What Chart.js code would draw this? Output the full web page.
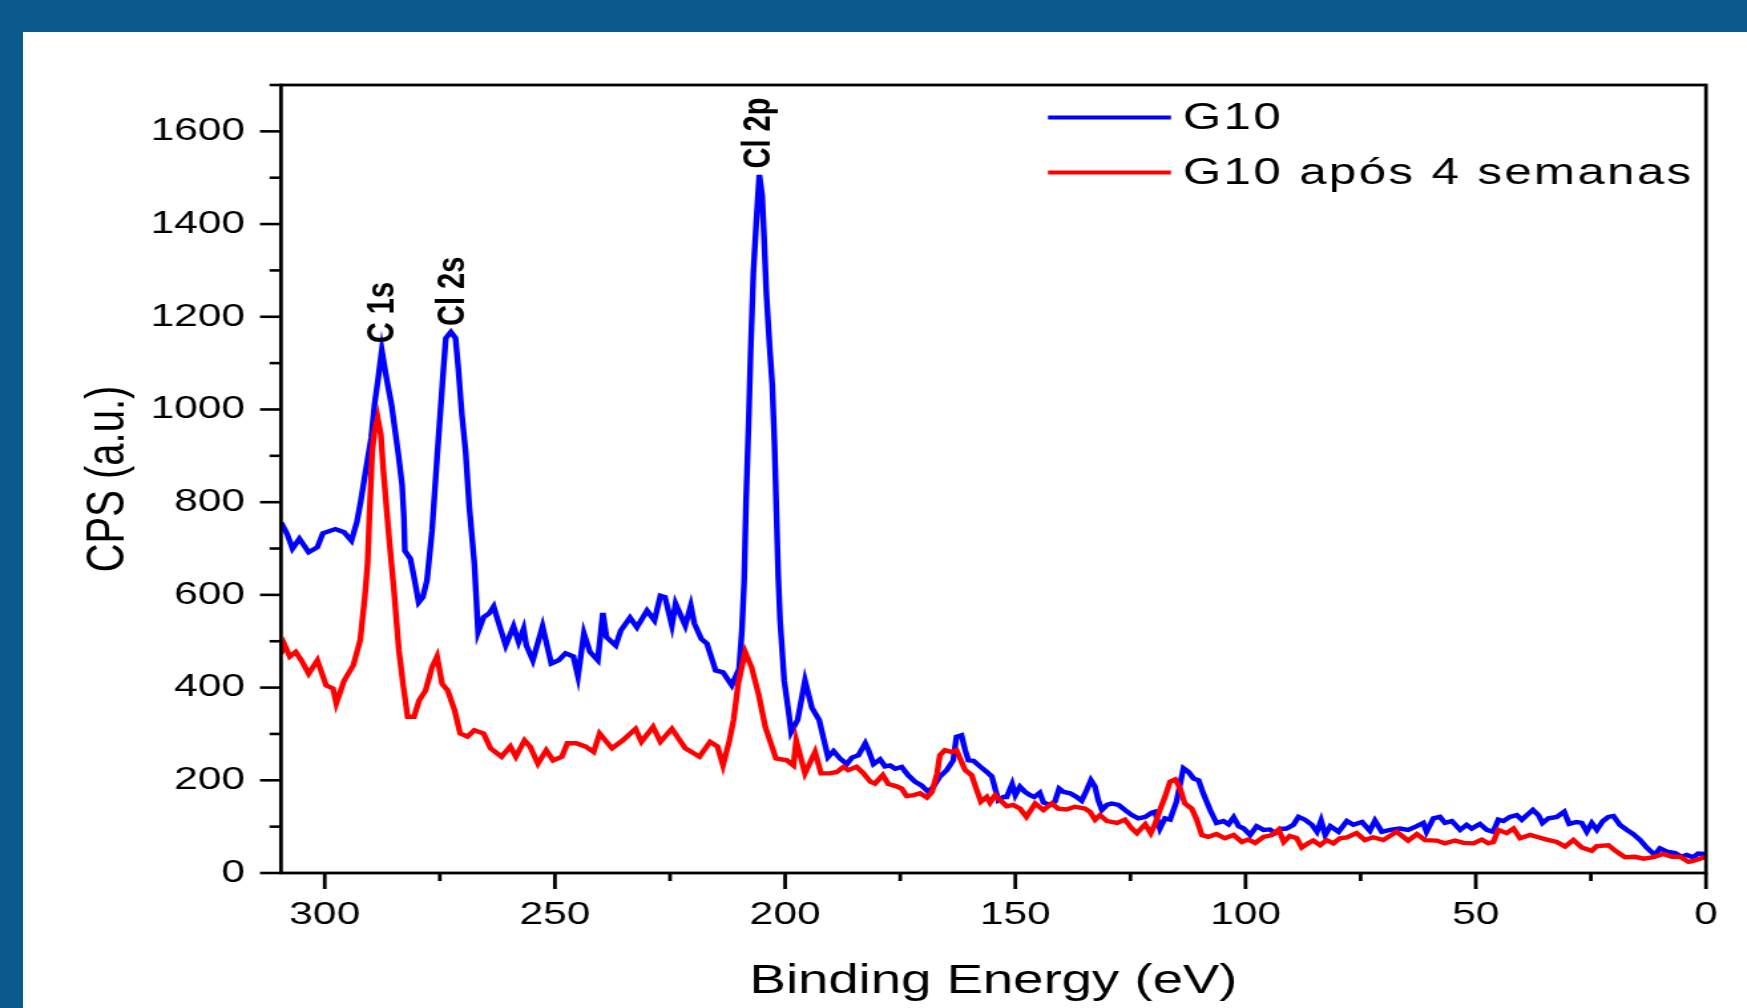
<!DOCTYPE html>
<html>
<head>
<meta charset="utf-8">
<title>XPS G10</title>
<script src="https://cdn.jsdelivr.net/npm/chart.js@4.4.1/dist/chart.umd.min.js"></script>
<style>
  html, body { margin: 0; padding: 0; }
  body { width: 1747px; height: 1008px; background: #0a5a8e; position: relative; overflow: hidden; }
  #panel { position: absolute; left: 23px; top: 32px; right: 0; bottom: 0; background: #fff; }
  /* the original figure is stretched sideways, so the chart is drawn narrow and scaled */
  #wrap { position: absolute; left: 0; top: 0; width: 1314px; height: 1008px; transform: scaleX(1.3295); transform-origin: 0 0; }
</style>
</head>
<body>
<div id="panel"></div>
<div id="wrap"><canvas id="xps" width="1314" height="1008"></canvas></div>
<script>
// G10 (blue)
const g10Energy = [309.5, 308.2, 307.0, 305.5, 303.5, 301.6, 300.4, 297.7, 295.8, 294.2, 293.0, 292.2, 291.0, 289.9, 289.2, 288.3, 287.6, 286.7, 285.5, 284.8, 284.0, 283.2, 282.8, 282.6, 281.4, 280.6, 279.6, 278.7, 277.8, 276.7, 275.6, 274.8, 274.2, 273.7, 272.6, 271.6, 271.0, 270.2, 269.4, 268.6, 267.5, 267.1, 266.7, 265.5, 264.3, 263.3, 262.4, 260.7, 259.0, 257.9, 256.8, 256.2, 254.8, 252.7, 250.8, 249.2, 247.7, 246.0, 245.0, 243.7, 242.4, 240.7, 239.6, 238.8, 236.8, 235.7, 233.7, 232.2, 230.0, 228.4, 227.1, 226.1, 224.6, 223.8, 221.7, 220.5, 219.7, 218.2, 217.0, 215.1, 213.5, 211.6, 210.0, 209.4, 208.9, 208.5, 207.9, 207.5, 206.9, 206.3, 205.9, 205.6, 205.0, 204.6, 204.1, 203.4, 202.8, 202.3, 201.9, 201.5, 201.1, 200.2, 199.2, 198.7, 197.3, 195.7, 194.2, 192.6, 190.7, 189.5, 188.1, 186.6, 185.5, 184.1, 182.6, 181.9, 180.8, 179.4, 178.3, 177.2, 176.1, 174.7, 173.3, 171.8, 170.4, 168.9, 167.8, 166.4, 164.9, 163.5, 162.8, 161.7, 160.9, 160.2, 159.1, 157.7, 156.2, 155.1, 154.4, 153.7, 152.6, 151.9, 150.7, 150.0, 149.0, 147.9, 146.8, 145.9, 144.7, 143.9, 142.5, 141.4, 140.5, 139.6, 138.1, 136.7, 135.6, 134.5, 133.6, 132.7, 132.0, 131.2, 130.1, 129.1, 127.6, 126.2, 124.7, 123.3, 121.8, 120.4, 119.7, 118.6, 117.5, 116.4, 115.0, 113.5, 112.4, 111.3, 110.2, 109.2, 107.7, 106.3, 104.8, 103.7, 102.6, 101.5, 100.4, 99.0, 97.6, 96.1, 94.7, 93.6, 92.5, 91.1, 89.6, 88.5, 87.1, 85.6, 84.5, 83.6, 82.7, 81.6, 79.8, 78.0, 76.6, 74.7, 73.0, 71.9, 70.4, 68.6, 66.5, 64.7, 62.8, 61.4, 60.7, 59.2, 57.8, 56.7, 55.2, 53.4, 52.0, 50.9, 49.1, 47.6, 46.2, 45.1, 44.0, 42.6, 41.1, 40.0, 38.9, 37.6, 36.4, 35.5, 34.2, 32.4, 30.8, 29.7, 28.1, 27.0, 25.9, 24.8, 23.7, 22.4, 21.2, 20.1, 18.7, 17.2, 15.8, 14.3, 12.9, 11.1, 10.0, 8.5, 6.7, 5.3, 4.2, 2.8, 1.7, 0.2];
const g10Cps = [756, 732, 700, 721, 692, 703, 733, 742, 735, 717, 758, 801, 874, 939, 1010, 1074, 1128, 1074, 1010, 960, 902, 837, 766, 695, 678, 638, 584, 595, 631, 738, 896, 1006, 1089, 1154, 1167, 1154, 1089, 988, 909, 790, 667, 595, 520, 552, 560, 575, 545, 491, 532, 498, 527, 491, 459, 532, 452, 459, 474, 467, 424, 517, 477, 459, 561, 509, 491, 523, 551, 530, 566, 545, 598, 595, 534, 581, 534, 577, 538, 505, 495, 437, 433, 405, 441, 523, 631, 801, 982, 1124, 1296, 1397, 1462, 1506, 1462, 1376, 1254, 1139, 1053, 920, 780, 640, 545, 415, 344, 304, 330, 415, 357, 330, 250, 263, 247, 235, 249, 254, 280, 265, 235, 245, 230, 232, 225, 229, 211, 197, 189, 175, 186, 208, 222, 243, 294, 297, 265, 243, 242, 230, 218, 208, 182, 157, 164, 164, 192, 168, 186, 175, 168, 164, 173, 152, 147, 154, 182, 175, 172, 164, 156, 179, 200, 186, 157, 136, 147, 150, 147, 136, 125, 118, 121, 130, 132, 96, 118, 115, 154, 226, 218, 204, 200, 172, 136, 108, 112, 105, 120, 101, 96, 82, 101, 93, 94, 86, 95, 96, 104, 121, 115, 104, 89, 113, 82, 101, 89, 112, 104, 110, 91, 113, 89, 93, 96, 93, 101, 108, 89, 118, 121, 108, 112, 93, 104, 96, 106, 93, 89, 115, 112, 121, 125, 115, 125, 136, 125, 108, 118, 121, 132, 106, 110, 108, 89, 108, 93, 112, 121, 123, 104, 93, 84, 71, 55, 39, 53, 46, 43, 35, 39, 34, 42, 41];

// G10 após 4 semanas (red)
const agedEnergy = [309.5, 308.8, 307.6, 306.3, 305.1, 303.5, 301.6, 299.7, 298.2, 297.5, 295.8, 293.8, 292.3, 291.3, 290.7, 290.3, 290.0, 289.7, 289.2, 288.5, 287.8, 287.3, 286.7, 286.0, 284.9, 283.9, 283.0, 282.0, 280.6, 279.5, 278.1, 276.7, 275.6, 274.5, 273.3, 271.8, 270.6, 269.0, 267.5, 265.5, 264.0, 261.6, 259.7, 258.5, 256.6, 255.4, 253.7, 251.9, 250.4, 248.5, 247.3, 245.4, 243.4, 241.6, 240.3, 237.6, 235.3, 232.5, 231.2, 228.7, 227.1, 224.6, 221.7, 218.6, 216.3, 214.7, 213.5, 212.1, 211.2, 210.2, 208.7, 207.3, 205.8, 204.3, 202.0, 199.6, 198.2, 197.6, 195.7, 193.5, 192.2, 190.3, 188.8, 187.3, 186.3, 184.5, 183.0, 181.5, 180.5, 178.8, 177.6, 175.8, 174.7, 173.6, 172.1, 170.7, 169.2, 168.1, 167.0, 166.4, 165.3, 163.8, 162.8, 161.7, 160.9, 159.5, 158.4, 157.5, 156.2, 155.5, 154.4, 153.3, 151.9, 150.5, 149.0, 147.6, 145.7, 143.9, 142.1, 140.7, 138.9, 137.1, 134.9, 133.8, 132.7, 131.6, 130.1, 127.9, 126.2, 124.7, 123.6, 121.8, 120.6, 119.7, 118.6, 117.5, 116.4, 115.3, 114.2, 113.2, 111.7, 110.6, 109.5, 108.1, 106.3, 104.5, 102.6, 100.8, 99.4, 97.9, 96.1, 94.3, 92.8, 91.7, 90.4, 88.9, 87.8, 86.4, 85.3, 83.8, 82.4, 80.9, 79.5, 78.0, 75.9, 74.1, 72.3, 70.1, 67.2, 64.7, 62.8, 61.0, 58.5, 56.7, 54.5, 52.7, 50.5, 48.7, 47.3, 46.2, 45.1, 43.3, 41.8, 40.4, 38.2, 36.4, 34.6, 32.4, 30.6, 28.8, 27.0, 24.8, 23.7, 21.2, 19.4, 17.6, 15.4, 13.6, 11.4, 9.3, 7.4, 5.6, 3.8, 2.8, 1.3, 0.0];
const agedCps = [473, 494, 467, 477, 459, 430, 459, 405, 398, 366, 415, 448, 502, 595, 667, 770, 837, 909, 952, 982, 945, 873, 801, 720, 602, 480, 408, 337, 337, 372, 394, 444, 467, 408, 394, 351, 301, 294, 308, 301, 269, 251, 273, 251, 286, 273, 236, 265, 243, 251, 280, 280, 273, 261, 301, 269, 286, 311, 283, 315, 283, 311, 269, 251, 283, 273, 232, 286, 330, 408, 477, 444, 387, 315, 247, 243, 232, 286, 215, 261, 215, 215, 218, 229, 222, 229, 215, 197, 193, 211, 192, 187, 182, 166, 168, 172, 163, 175, 215, 254, 265, 261, 265, 240, 222, 211, 179, 154, 164, 152, 168, 157, 144, 147, 139, 121, 150, 136, 150, 139, 137, 143, 139, 132, 115, 125, 112, 108, 115, 96, 86, 105, 86, 105, 136, 164, 197, 202, 182, 150, 139, 115, 82, 78, 84, 75, 82, 67, 72, 65, 78, 82, 94, 67, 80, 75, 55, 64, 70, 60, 71, 64, 75, 77, 86, 71, 77, 71, 89, 70, 84, 71, 70, 64, 70, 65, 64, 72, 64, 67, 93, 86, 96, 75, 82, 77, 72, 67, 57, 71, 55, 48, 58, 60, 46, 34, 35, 31, 34, 41, 35, 35, 24, 26, 31, 35];

const xTicks = [0, 50, 100, 150, 200, 250, 300];
const xMinorTicks = [25, 75, 125, 175, 225, 275];
const yTicks = [0, 200, 400, 600, 800, 1000, 1200, 1400, 1600];
const yMinorTicks = [100, 300, 500, 700, 900, 1100, 1300, 1500, 1700];

const peakNames = ['C 1s', 'Cl 2s', 'Cl 2p'];
const peakEnergy = [287.5, 272.1, 205.6];
const peakLabelCps = [1143, 1180, 1520];

const STRETCH = 1747 / 1314;
const FONT = '"Liberation Sans", Arial, sans-serif';
Chart.defaults.font.family = FONT;
Chart.defaults.color = '#000';

const frameAndTicks = {
    id: 'frameAndTicks',
    afterDatasetsDraw(chart) {
        const { ctx, chartArea: a, scales: { x, y } } = chart;
        ctx.save();
        ctx.strokeStyle = '#000';
        ctx.lineWidth = 2.8;
        ctx.strokeRect(a.left, a.top, a.right - a.left, a.bottom - a.top);

        ctx.lineWidth = 2.6;
        const yTick = (v, len) => {
            const py = y.getPixelForValue(v);
            ctx.beginPath(); ctx.moveTo(a.left - len, py); ctx.lineTo(a.left, py); ctx.stroke();
        };
        yTicks.forEach(v => yTick(v, 15.8));
        yMinorTicks.forEach(v => yTick(v, 8.6));

        ctx.lineWidth = 2.8;
        const xTick = (v, len) => {
            const px = x.getPixelForValue(v);
            ctx.beginPath(); ctx.moveTo(px, a.bottom); ctx.lineTo(px, a.bottom + len); ctx.stroke();
        };
        xTicks.forEach(v => xTick(v, 16));
        xMinorTicks.forEach(v => xTick(v, 8));

        // peak labels, rotated
        ctx.fillStyle = '#000';
        ctx.font = 'bold 29px "Liberation Sans", Arial, sans-serif';
        ctx.textAlign = 'left';
        ctx.textBaseline = 'middle';
        peakNames.forEach((t, i) => {
            ctx.save();
            ctx.translate(x.getPixelForValue(peakEnergy[i]), y.getPixelForValue(peakLabelCps[i]));
            ctx.rotate(-Math.PI / 2);
            ctx.fillText(t, 0, 0);
            ctx.restore();
        });
        ctx.restore();
    }
};

// legend sits inside the plot, top right
const insideLegend = {
    id: 'insideLegend',
    afterDraw(chart) {
        const ctx = chart.ctx;
        const rows = [117.5, 172.5];
        ctx.save();
        ctx.font = '37px ' + FONT;
        if ('letterSpacing' in ctx) ctx.letterSpacing = '1.8px';
        ctx.textBaseline = 'middle';
        ctx.textAlign = 'left';
        chart.data.datasets.forEach((ds, i) => {
            ctx.strokeStyle = ds.borderColor;
            ctx.lineWidth = 3.8;
            ctx.beginPath();
            ctx.moveTo(1048 / STRETCH, rows[i]);
            ctx.lineTo(1171 / STRETCH, rows[i]);
            ctx.stroke();
            ctx.fillStyle = '#000';
            ctx.fillText(ds.label, 1183 / STRETCH, rows[i] + 1);
        });
        ctx.restore();
    }
};

const toPoints = (xs, ys) => xs.map((v, i) => ({ x: v, y: ys[i] }));

new Chart(document.getElementById('xps'), {
    type: 'scatter',
    data: {
        datasets: [
            { label: 'G10', data: toPoints(g10Energy, g10Cps), borderColor: '#0000ff', order: 1 },
            { label: 'G10 após 4 semanas', data: toPoints(agedEnergy, agedCps), borderColor: '#ff0000', order: 0 }
        ]
    },
    options: {
        responsive: false,
        animation: false,
        devicePixelRatio: 1,
        showLine: true,
        elements: {
            point: { radius: 0, hoverRadius: 0 },
            line: { borderWidth: 4.4, tension: 0, fill: false, borderJoinStyle: 'miter' }
        },
        layout: { padding: { top: 85, right: 1314 - 1706 / STRETCH, left: 0, bottom: 0 } },
        plugins: { legend: { display: false }, tooltip: { enabled: false } },
        scales: {
            x: {
                type: 'linear', reverse: true, min: 0, max: 309.5,
                grid: { display: false, drawTicks: false },
                border: { display: false },
                afterBuildTicks: s => { s.ticks = xTicks.map(v => ({ value: v })); },
                afterFit: s => { s.height = 135; },
                ticks: { padding: 23, color: '#000', font: { size: 32 }, maxRotation: 0, autoSkip: false, callback: v => String(v) },
                title: { display: true, text: 'Binding Energy (eV)', color: '#000', font: { size: 41 }, padding: { top: 0, bottom: 2 } }
            },
            y: {
                type: 'linear', min: 0, max: 1700,
                grid: { display: false, drawTicks: false },
                border: { display: false },
                afterBuildTicks: s => { s.ticks = yTicks.map(v => ({ value: v })); },
                afterFit: s => { s.width = 281 / STRETCH; },
                ticks: { padding: 27, color: '#000', font: { size: 32 }, autoSkip: false, callback: v => String(v) },
                title: { display: true, text: 'CPS (a.u.)', color: '#000', font: { size: 40 }, padding: { top: 58, bottom: 0 } }
            }
        }
    },
    plugins: [frameAndTicks, insideLegend]
});
</script>
</body>
</html>
